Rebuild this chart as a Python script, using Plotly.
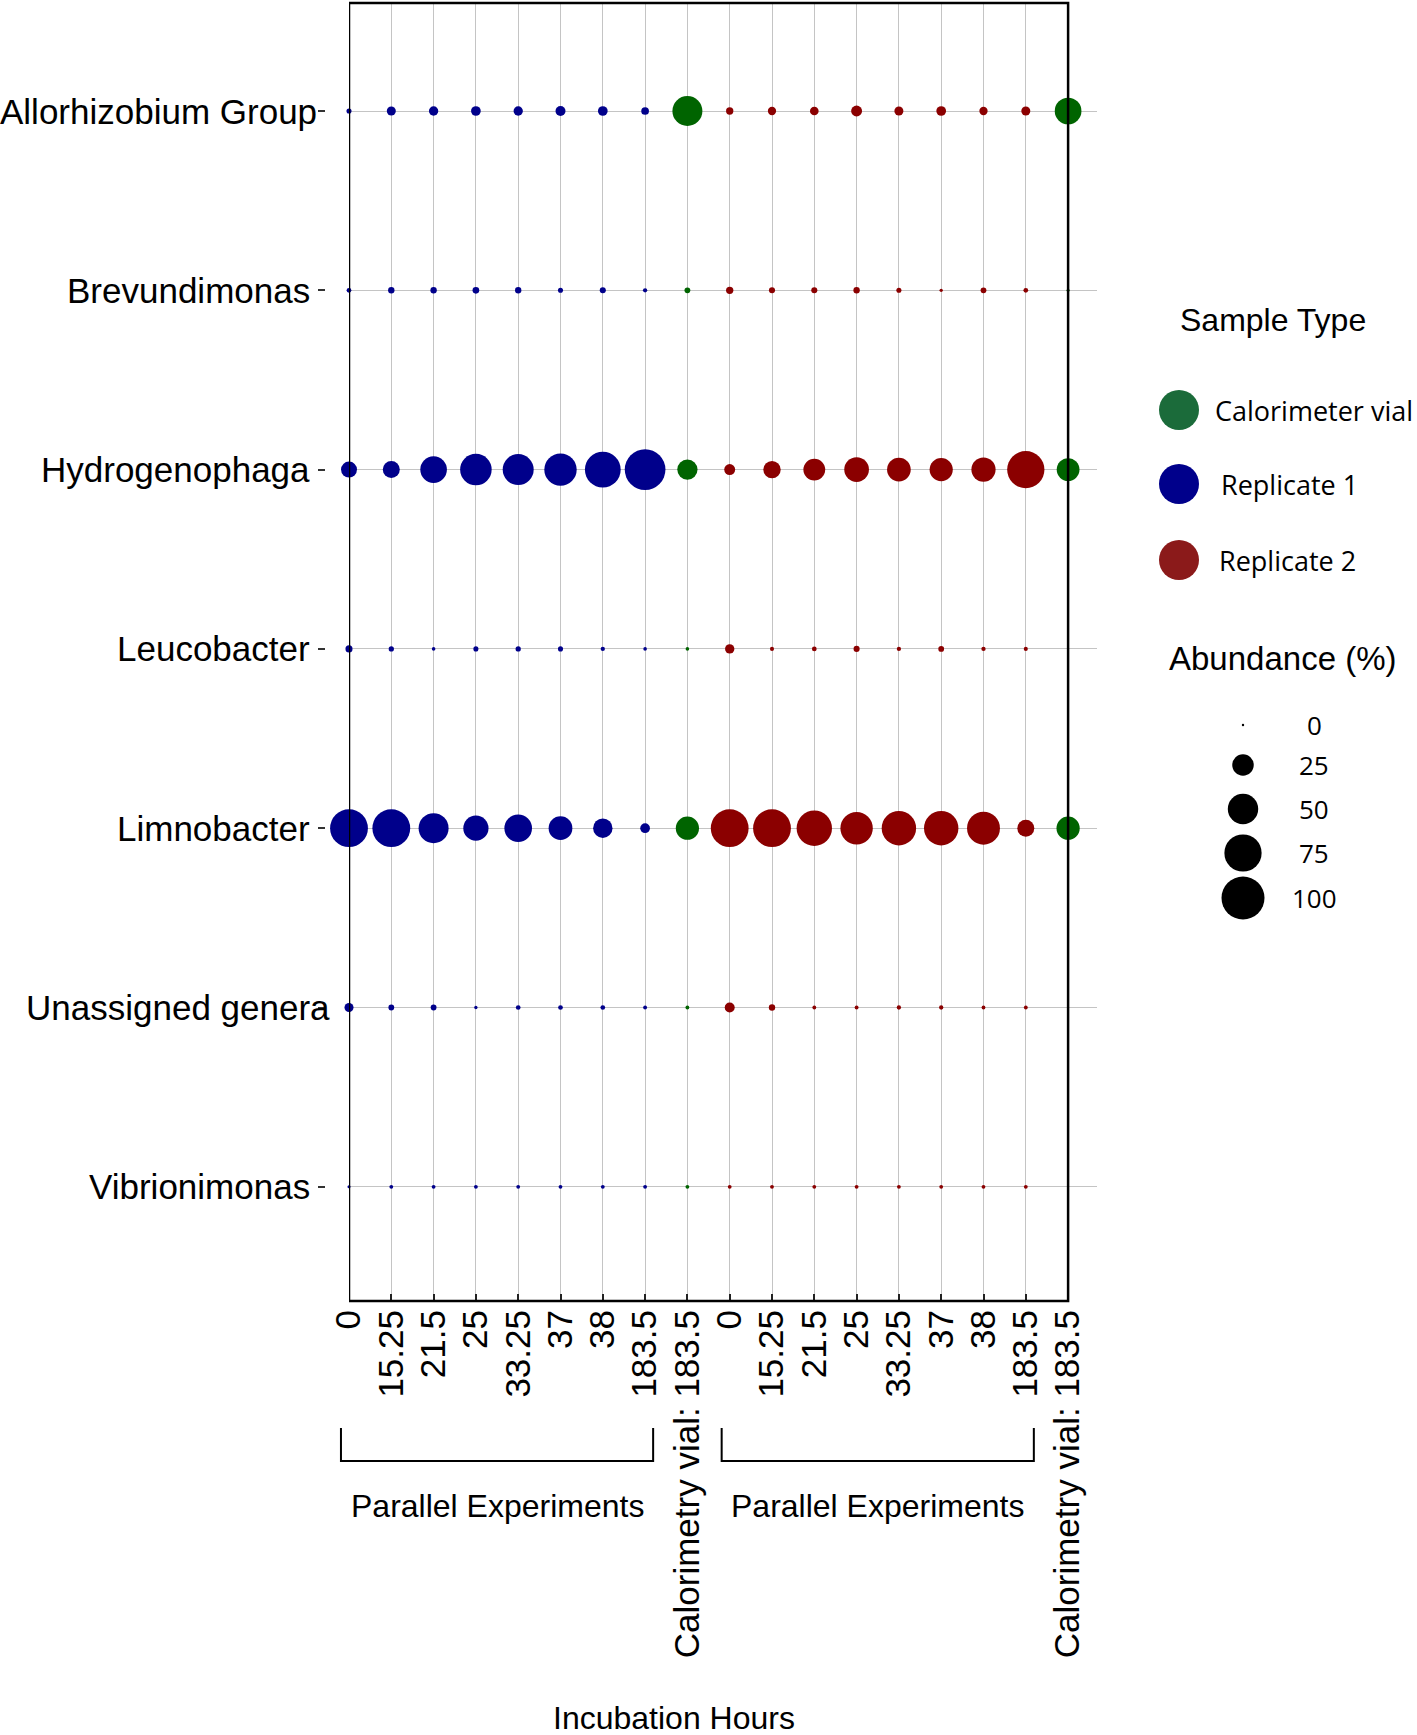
import plotly.graph_objects as go

# ---------------- data ----------------
genera = ["Allorhizobium Group", "Brevundimonas", "Hydrogenophaga", "Leucobacter",
          "Limnobacter", "Unassigned genera", "Vibrionimonas"]
hours = ["0", "15.25", "21.5", "25", "33.25", "37", "38", "183.5"]
vial_label = "Calorimetry vial: 183.5"
group_label = "Parallel Experiments"

# abundance (%) per genus (rows) and incubation hour (columns)
replicate_1 = [
    [1.4, 4.4, 4.7, 5.1, 4.7, 5.4, 5.1, 3.2],
    [1.2, 2.2, 2.2, 2.4, 2.2, 1.4, 2.0, 1.0],
    [13.8, 15.6, 38.3, 53.7, 52.0, 56.8, 69.3, 89.6],
    [2.7, 1.5, 0.7, 1.4, 1.5, 1.4, 1.0, 0.7],
    [77.3, 77.3, 48.7, 34.3, 41.2, 30.4, 20.4, 5.1],
    [4.4, 1.8, 1.8, 0.6, 1.2, 1.2, 1.2, 0.8],
    [0.5, 0.8, 0.8, 0.8, 0.8, 0.8, 0.8, 0.8],
]
replicate_2 = [
    [2.9, 3.7, 4.1, 6.5, 4.4, 5.1, 3.7, 4.4],
    [2.9, 2.0, 2.0, 2.2, 1.4, 0.6, 1.8, 1.2],
    [6.5, 16.4, 25.7, 33.0, 30.4, 29.1, 31.7, 75.2],
    [4.7, 0.9, 1.2, 2.0, 1.0, 1.8, 1.0, 0.9],
    [77.3, 77.3, 67.8, 56.8, 64.0, 64.0, 58.5, 15.6],
    [5.4, 2.2, 0.8, 0.8, 1.0, 1.0, 0.8, 0.8],
    [0.8, 0.8, 0.8, 0.8, 0.8, 0.8, 0.8, 0.8],
]
calorimeter_vial_1 = [48.7, 1.8, 22.3, 0.7, 29.1, 0.8, 0.8]
calorimeter_vial_2 = [38.6, 0.5, 28.1, 0.0, 29.1, 0.0, 0.0]
size_legend_values = [0, 25, 50, 75, 100]
sample_types = ["Calorimeter vial", "Replicate 1", "Replicate 2"]

# ---------------- styling ----------------
W, H = 1417, 1735
FONT = "Liberation Sans, Arial, Helvetica, sans-serif"
LFONT = "Open Sans, Lato, sans-serif"
COL = {"Replicate 1": "#00008b", "Replicate 2": "#8b0000", "Calorimeter vial": "#006400"}
LEG_COL = {"Replicate 1": "#00008b", "Replicate 2": "#8b1a1a", "Calorimeter vial": "#1b6b3a"}
SIZEREF = 2.0 * 100 / 43 ** 2
GRID = "#c4c4c4"

# column layout: replicate 1 hours, vial, replicate 2 hours, vial
ticktext = hours + [vial_label] + hours + [vial_label]
cols_rep1 = list(range(0, len(hours)))
col_vial1 = len(hours)
cols_rep2 = list(range(len(hours) + 1, 2 * len(hours) + 1))
col_vial2 = 2 * len(hours) + 1
ncols = len(ticktext)


def flatten(matrix, cols):
    xs, ys, vs = [], [], []
    for gi, row in enumerate(matrix):
        for c, v in zip(cols, row):
            xs.append(c)
            ys.append(gi)
            vs.append(v)
    return xs, ys, vs


fig = go.Figure()


def add_series(xs, ys, vs, name):
    fig.add_trace(go.Scatter(
        x=xs, y=ys, mode="markers", name=name, showlegend=False, cliponaxis=False,
        marker=dict(size=vs, sizemode="area", sizeref=SIZEREF, color=COL[name],
                    opacity=1, line=dict(width=0)),
        hovertemplate="%{marker.size}%<extra></extra>"))


add_series(*flatten(replicate_1, cols_rep1), "Replicate 1")
add_series(*flatten(replicate_2, cols_rep2), "Replicate 2")
add_series([col_vial1] * len(genera), list(range(len(genera))), calorimeter_vial_1, "Calorimeter vial")
add_series([col_vial2] * len(genera), list(range(len(genera))), calorimeter_vial_2, "Calorimeter vial")

# ---------------- axes geometry (pixels) ----------------
x_left, x_right = 349, 1097
y_top, y_bot = 3, 1301
col_w = 42.3
row_h = 179.3
row0 = 111
x_max = (x_right - x_left) / col_w
y_min = (y_top - row0) / row_h
y_max = (y_bot - row0) / row_h


def col_to_paper(c):
    return (x_left + c * col_w) / W


fig.update_layout(
    width=W, height=H,
    margin=dict(l=0, r=0, t=0, b=0),
    paper_bgcolor="white", plot_bgcolor="rgba(0,0,0,0)",
    font=dict(family=FONT, color="black"),
    xaxis=dict(
        domain=[x_left / W, x_right / W], range=[0, x_max],
        tickmode="array", tickvals=list(range(ncols)), ticktext=ticktext,
        tickangle=-90, ticks="inside", ticklen=7, tickwidth=2, tickcolor="#222",
        ticklabelstandoff=1,
        tickfont=dict(size=35, family=FONT, color="black"),
        showgrid=True, gridcolor=GRID, gridwidth=1.3, zeroline=False, showline=False,
        automargin=False, fixedrange=True),
    yaxis=dict(
        domain=[1 - y_bot / H, 1 - y_top / H], range=[y_max, y_min],
        anchor="free", position=325 / W,
        tickmode="array", tickvals=list(range(len(genera))),
        ticktext=[""] * len(genera),
        ticks="outside", ticklen=7, tickwidth=2, tickcolor="#333",
        showgrid=True, gridcolor=GRID, gridwidth=1.3, zeroline=False, showline=False,
        automargin=False, fixedrange=True),
    xaxis2=dict(domain=[0, 1], range=[0, W], anchor="y2", visible=False, fixedrange=True),
    yaxis2=dict(domain=[0, 1], range=[H, 0], anchor="x2", visible=False, fixedrange=True),
)

# genus labels placed at the category rows (right edges as in the reference)
label_right = [319, 312, 312, 312, 312, 332, 312]
for gi, (g, xr) in enumerate(zip(genera, label_right)):
    fig.add_annotation(x=xr / W, xref="paper", y=gi, yref="y", text=g, showarrow=False,
                       xanchor="right", yanchor="middle",
                       font=dict(size=35, family=FONT, color="black"))

# panel box (drawn above the bubbles)
fig.add_shape(type="rect", xref="x", yref="y domain", x0=0, x1=ncols - 1, y0=0, y1=1,
              line=dict(color="black", width=2.5), layer="above")

# brackets + group labels
br_top = 1 - 1428 / H
br_bot = 1 - 1461 / H
for cols in (cols_rep1, cols_rep2):
    a, b = col_to_paper(cols[0] - 0.19), col_to_paper(cols[-1] + 0.19)
    fig.add_shape(type="path", xref="paper", yref="paper",
                  path=f"M {a},{br_top} L {a},{br_bot} L {b},{br_bot} L {b},{br_top}",
                  line=dict(color="black", width=2))
    fig.add_annotation(x=(cols[0] + cols[-1]) / 2, xref="x", y=1 - 1506 / H, yref="paper",
                       text=group_label, showarrow=False, xanchor="center", yanchor="middle",
                       font=dict(size=32, family=FONT, color="black"))

fig.add_annotation(x=674 / W, y=1 - 1718 / H, xref="paper", yref="paper",
                   text="Incubation Hours", showarrow=False, xanchor="center", yanchor="middle",
                   font=dict(size=32, family=FONT, color="black"))

# ---------------- legends (drawn on a pixel-space overlay axis) ----------------
fig.add_annotation(x=1273, y=320, xref="x2", yref="y2", text="Sample Type",
                   showarrow=False, xanchor="center", yanchor="middle",
                   font=dict(size=32, family=FONT))
leg_y = [410, 484, 560]
leg_tx = [1213, 1219, 1217]
fig.add_trace(go.Scatter(
    x=[1179] * len(sample_types), y=leg_y, xaxis="x2", yaxis="y2", mode="markers",
    showlegend=False, hoverinfo="skip", cliponaxis=False,
    marker=dict(size=40, color=[LEG_COL[s] for s in sample_types], opacity=1,
                line=dict(width=0))))
for s, yy, tx in zip(sample_types, leg_y, leg_tx):
    fig.add_annotation(x=tx, y=yy, xref="x2", yref="y2", text=s, showarrow=False,
                       xanchor="left", yanchor="middle", font=dict(size=27, family=LFONT))

fig.add_annotation(x=1282, y=658, xref="x2", yref="y2", text="Abundance (%)",
                   showarrow=False, xanchor="center", yanchor="middle",
                   font=dict(size=33, family=FONT))
size_y = [725, 765, 809, 853, 898]
fig.add_trace(go.Scatter(
    x=[1243] * len(size_legend_values), y=size_y, xaxis="x2", yaxis="y2", mode="markers",
    showlegend=False, hoverinfo="skip", cliponaxis=False,
    marker=dict(size=[max(v, 0.3) for v in size_legend_values], sizemode="area",
                sizeref=SIZEREF, color="black", opacity=1, line=dict(width=0))))
for v, yy in zip(size_legend_values, size_y):
    fig.add_annotation(x=1314, y=yy, xref="x2", yref="y2", text=str(v), showarrow=False,
                       xanchor="center", yanchor="middle", font=dict(size=26, family=LFONT))

# the page's default body margin would shift the figure; remove it
fig.write_html("out.html", config={"displayModeBar": False},
               post_script="document.body.style.margin='0px';document.body.style.overflow='hidden';")
